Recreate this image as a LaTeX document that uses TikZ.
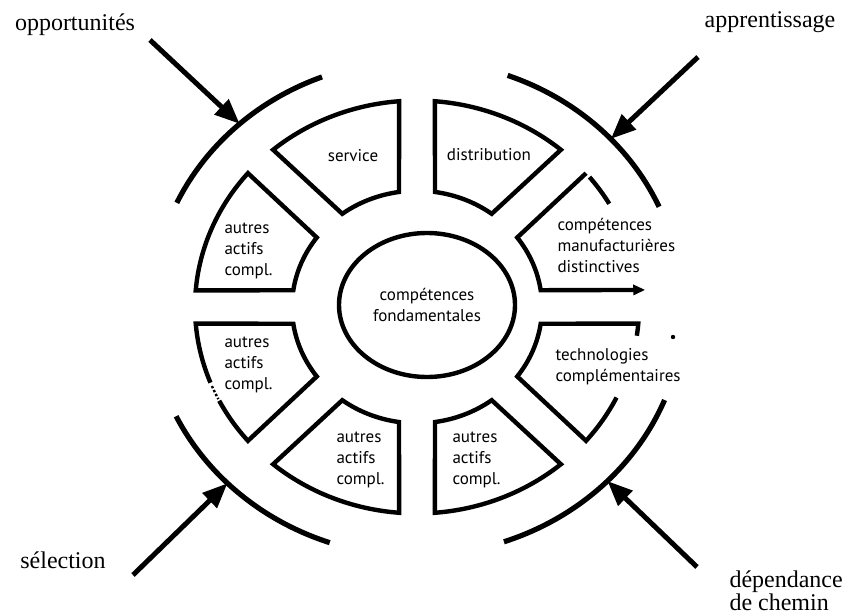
\documentclass[tikz,border=0pt]{standalone}
\usepackage{fontspec}
\setmainfont{Liberation Serif}
\newfontfamily\innerfont{PT Sans}
\usetikzlibrary{arrows.meta,shapes.geometric}

\begin{document}
\begin{tikzpicture}
	[x=0.5pt,y=-0.5pt,line width=2.5pt,>={Triangle[length=12.5pt,width=10pt]},
		ring/.style={line width=2.6pt}, box/.style={line width=2.2pt},
		word/.style={font=\fontsize{12}{11.5}\selectfont,align=left,inner sep=0pt},
		tag/.style={font=\innerfont\fontsize{8.5}{10.5}\selectfont,align=left,inner sep=0pt}]

	\useasboundingbox (0,0) rectangle (846,615);

	% noyau
	\node[draw,box,ellipse,minimum width=88pt,minimum height=72pt,tag,align=center] (core) at (427,305) {compétences\\fondamentales};

	\begin{scope}[shift={(417,307)},yscale=-0.93]
		% anneau exterieur
		\draw[ring] (111:265) arc[start angle=111,end angle=155,radius=265];
		\draw[ring] (24:265) arc[start angle=24,end angle=70,radius=265];
		\draw[ring] (206:268) arc[start angle=206,end angle=251,radius=268];
		\draw[ring] (289:267) arc[start angle=289,end angle=338,radius=267];
		\coordinate (tl) at (132:265);
		\coordinate (tr) at (43:265);
		\coordinate (bl) at (225:268);
		\coordinate (br) at (315.5:267);

		% actifs
		\draw[box] (49.6:222) arc[start angle=49.6,end angle=85.4,radius=222] -- (81.7:125) arc[start angle=81.7,end angle=53.3,radius=125] -- cycle;
		\draw[box] (94.6:222) arc[start angle=94.6,end angle=130.4,radius=222] -- (126.7:125) arc[start angle=126.7,end angle=98.3,radius=125] -- cycle;
		\draw[box] (139.6:222) arc[start angle=139.6,end angle=175.4,radius=222] -- (171.7:125) arc[start angle=171.7,end angle=143.3,radius=125] -- cycle;
		\draw[box] (201.5:222) arc[start angle=201.5,end angle=184.6,radius=222] -- (188.3:125) arc[start angle=188.3,end angle=216.7,radius=125] -- (220.4:222) arc[start angle=220.4,end angle=207,radius=222];
		\draw[line width=1.2pt,densely dotted] (202.5:222) arc[start angle=202.5,end angle=206.5,radius=222];
		\draw[box] (229.6:222) arc[start angle=229.6,end angle=265.4,radius=222] -- (261.7:125) arc[start angle=261.7,end angle=233.3,radius=125] -- cycle;
		\draw[box] (274.6:222) arc[start angle=274.6,end angle=310.4,radius=222] -- (306.7:125) arc[start angle=306.7,end angle=278.3,radius=125] -- cycle;
		\draw[box] (352:222) arc[start angle=352,end angle=355.4,radius=222] -- (351.7:125) arc[start angle=351.7,end angle=323.3,radius=125] -- (319.6:222) arc[start angle=319.6,end angle=334,radius=222];
		\draw[box,-{Triangle[length=6pt,width=5pt]}] (40.4:222) -- (36.7:125) arc[start angle=36.7,end angle=8.3,radius=125] -- (4.6:229);
		\draw[box] (39:222) arc[start angle=39,end angle=30,radius=222];
	\end{scope}
	\fill (673,337) circle[radius=2.2];

	\node[tag] (serv) at (353,156) {service};
	\node[tag] (distr) at (489,155) {distribution};
	\node[tag,anchor=west] (autres1) at (222,251) {autres\\actifs\\compl.};
	\node[tag,anchor=west] (manuf) at (555,245) {compétences\\manufacturières\\distinctives};
	\node[tag,anchor=west] (techno) at (553,367) {technologies\\complémentaires};
	\node[tag,anchor=west] (autres2) at (222,365) {autres\\actifs\\compl.};
	\node[tag,anchor=west] (autres3) at (334,460) {autres\\actifs\\compl.};
	\node[tag,anchor=west] (autres4) at (450,460) {autres\\actifs\\compl.};

	% forces
	\node[word] (opport) at (75,25) {opportunités};
	\node[word] (appr) at (770,22) {apprentissage};
	\node[word] (select) at (63,560) {sélection};
	\node[word,anchor=north west] (depend) at (727,568) {dépendance\\de chemin};
	\coordinate (opportfoot) at (150,40);
	\coordinate (apprfoot) at (698,57);
	\coordinate (selectfoot) at (133,575);
	\coordinate (dependfoot) at (697,567);

	\draw[->] (opportfoot) -- (tl);
	\draw[->] (apprfoot) -- (tr);
	\draw[->] (selectfoot) -- (bl);
	\draw[->] (dependfoot) -- (br);

\end{tikzpicture}
\end{document}
